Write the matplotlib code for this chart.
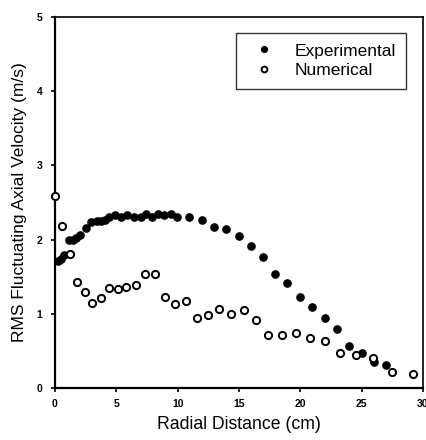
#!/usr/bin/python3

#
# RMS fluctuating axial velocity against radial distance:
# experimental measurements (filled) vs numerical results (open).
#

import matplotlib
matplotlib.use('Agg')
import matplotlib.pyplot as plt

plt.rcParams['font.family'] = ['Liberation Sans', 'DejaVu Sans']

# experimental profile
exp_x = [0.27, 0.45, 0.75, 1.13, 1.48, 1.69, 2.02, 2.5, 2.96, 3.41, 3.77, 4.09,
         4.44, 4.92, 5.38, 5.91, 6.4, 6.99, 7.4, 7.93, 8.41, 8.87, 9.49, 9.94,
         10.94, 11.96, 12.97, 13.98, 14.97, 15.94, 16.96, 17.96, 18.95, 20.0,
         20.97, 21.99, 22.98, 24.0, 25.0, 25.99, 26.97]
exp_y = [1.71, 1.74, 1.79, 2.00, 2.00, 2.02, 2.06, 2.15, 2.24, 2.25, 2.25, 2.26,
         2.31, 2.33, 2.31, 2.33, 2.31, 2.30, 2.34, 2.31, 2.34, 2.33, 2.35, 2.31,
         2.30, 2.27, 2.17, 2.14, 2.05, 1.91, 1.76, 1.53, 1.42, 1.23,
         1.09, 0.94, 0.79, 0.57, 0.47, 0.35, 0.31]

# numerical profile
num_x = [0.0, 0.54, 1.21, 1.80, 2.42, 3.04, 3.71, 4.38, 5.1, 5.78, 6.59, 7.34,
         8.15, 8.95, 9.81, 10.67, 11.56, 12.44, 13.35, 14.33, 15.38, 16.4, 17.4,
         18.5, 19.62, 20.78, 21.99, 23.2, 24.52, 25.94, 27.5, 29.2]
num_y = [2.59, 2.19, 1.80, 1.43, 1.29, 1.15, 1.21, 1.35, 1.33, 1.36, 1.39, 1.54,
         1.53, 1.23, 1.13, 1.17, 0.94, 0.98, 1.07, 1.00, 1.05, 0.92, 0.71,
         0.71, 0.74, 0.68, 0.63, 0.47, 0.44, 0.41, 0.21, 0.19]

x_ticks = [0, 5, 10, 15, 20, 25, 30]
y_ticks = [0, 1, 2, 3, 4, 5]

fig = plt.figure(figsize=(4.27, 4.40), dpi=100)
ax = fig.add_axes([55 / 427, 1 - 388 / 440, 368 / 427, 371 / 440])

ax.plot(exp_x, exp_y, 'o', color='black', markersize=5.2, linestyle='none',
        label='Experimental', zorder=3)
ax.plot(num_x, num_y, 'o', markerfacecolor='white', markeredgecolor='black',
        markeredgewidth=1.4, markersize=5.2, linestyle='none',
        label='Numerical', zorder=4, clip_on=False)

ax.set_xlim(0, 30)
ax.set_ylim(0, 5)
ax.set_xticks(x_ticks)
ax.set_yticks(y_ticks)
ax.tick_params(direction='out', length=3, width=1.2, labelsize=7.5)
ax.tick_params(axis='x', pad=5)
ax.tick_params(axis='y', pad=6)
for lbl in ax.get_xticklabels() + ax.get_yticklabels():
  lbl.set_fontweight('bold')
for s in ax.spines.values():
  s.set_linewidth(1.2)
ax.spines['left'].set_linewidth(1.6)
ax.spines['bottom'].set_linewidth(1.6)

ax.set_xlabel('Radial Distance (cm)', fontsize=12.7, labelpad=5)
ax.set_ylabel('RMS Fluctuating Axial Velocity (m/s)', fontsize=12.5, labelpad=7)

leg = ax.legend(loc='upper right', bbox_to_anchor=(0.954, 0.957), fontsize=12.5,
                frameon=True, fancybox=False, edgecolor='black',
                borderaxespad=0, handletextpad=0.76, borderpad=0.6,
                labelspacing=0.26, markerscale=0.8, handlelength=2.0)
leg.get_frame().set_linewidth(1.0)

plt.savefig('out.png', dpi=100)
